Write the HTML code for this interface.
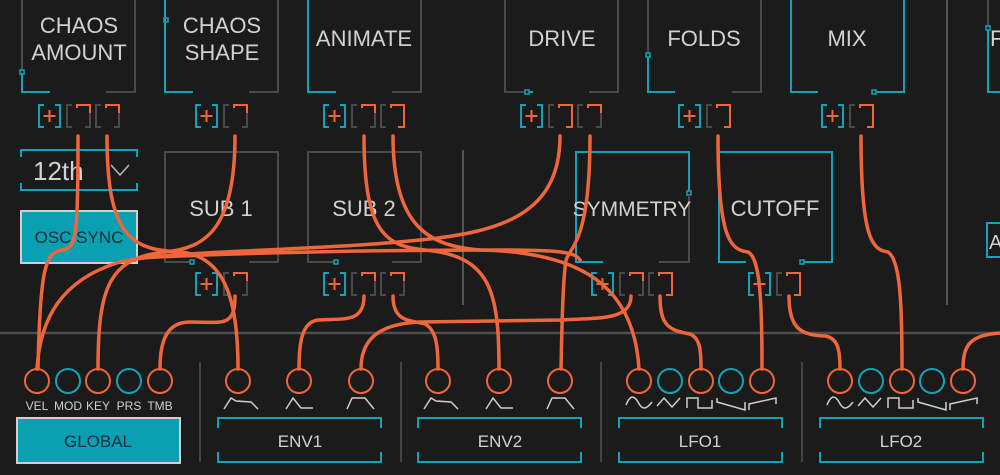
<!DOCTYPE html>
<html><head><meta charset="utf-8"><style>
html,body{margin:0;padding:0;background:#1b1b1b;}
svg{display:block;}
text{font-family:"Liberation Sans",sans-serif;}
</style></head><body>
<svg width="1000" height="475" viewBox="0 0 1000 475" xmlns="http://www.w3.org/2000/svg">
<rect width="1000" height="475" fill="#1b1b1b"/>
<defs>
<g id="plus"><path d="M7,1H2V23H7M18,1H23V23H18" fill="none" stroke="#12a3b8" stroke-width="2"/><path d="M12.5,6V18M6.5,12H18.5" stroke="#f0663c" stroke-width="2"/></g>
<g id="slot"><path d="M6,1H1V23H6M19,1H24V23H19" fill="none" stroke="#4a4a4a" stroke-width="2"/></g>
<g id="slotA"><path d="M6,1H1V23H6M19,1H24V23H19" fill="none" stroke="#4a4a4a" stroke-width="2"/><path d="M11,4V1H24V9" fill="none" stroke="#f0663c" stroke-width="2"/></g>
<g id="slotR"><path d="M6,1H1V23H6" fill="none" stroke="#4a4a4a" stroke-width="2"/><path d="M11,4V1H24V23H18" fill="none" stroke="#f0663c" stroke-width="2"/></g>
</defs>
<g fill="none" stroke-width="2">
<path d="M463,150V305M947,0V305" stroke="#555"/>
<path d="M0,333H1000" stroke="#4e4e4e" stroke-width="2.5"/>
<path d="M200,362V462M401,362V462M601,362V462M802,362V462" stroke="#444"/>
<path d="M22,0V70M106,92H135V0" stroke="#4a4a4a"/>
<path d="M22,74V92H50" stroke="#12a3b8"/><rect x="20" y="70" width="4" height="4" stroke="#12a3b8" stroke-width="1.5"/>
<path d="M165,0V92H193" stroke="#12a3b8"/><rect x="164" y="18" width="4" height="4" stroke="#12a3b8" stroke-width="1.5"/><path d="M249,92H278V0" stroke="#4a4a4a"/>
<path d="M308,0V92H336" stroke="#12a3b8"/><path d="M392,92H421V0" stroke="#4a4a4a"/>
<path d="M505,0V92H525M589,92H618V0" stroke="#4a4a4a"/><rect x="525" y="90" width="4" height="4" stroke="#12a3b8" stroke-width="1.5"/><path d="M529,92H533" stroke="#12a3b8"/>
<path d="M648,0V53" stroke="#4a4a4a"/><path d="M648,57V92H675" stroke="#12a3b8"/><rect x="646" y="53" width="4" height="4" stroke="#12a3b8" stroke-width="1.5"/><path d="M732,92H761V0" stroke="#4a4a4a"/>
<path d="M791,0V92H818M876,92H904V0" stroke="#12a3b8"/><rect x="872" y="90" width="4" height="4" stroke="#12a3b8" stroke-width="1.5"/>
<path d="M988,0V26" stroke="#4a4a4a"/><path d="M988,30V92H1000" stroke="#12a3b8"/><rect x="986" y="26" width="4" height="4" stroke="#12a3b8" stroke-width="1.5"/>
<path d="M190,262H165V152H278V262H249" stroke="#4a4a4a"/><rect x="190" y="260" width="4" height="4" stroke="#12a3b8" stroke-width="1.5"/>
<path d="M334,262H308V152H421V262H392" stroke="#4a4a4a"/><rect x="334" y="260" width="4" height="4" stroke="#12a3b8" stroke-width="1.5"/>
<path d="M603,262H576V152H689V191" stroke="#12a3b8"/><rect x="687" y="191" width="4" height="4" stroke="#12a3b8" stroke-width="1.5"/><path d="M689,195V262H659" stroke="#4a4a4a"/>
<path d="M746,262H719V152H832V262H804" stroke="#12a3b8"/><rect x="800" y="260" width="4" height="4" stroke="#12a3b8" stroke-width="1.5"/>
<rect x="987" y="223" width="16" height="34" stroke="#12a3b8"/>
<path d="M21,157V150H137V157M21,183V190H137V183" stroke="#12a3b8"/>
<path d="M111,165L120,175L129,165" stroke="#bbb" stroke-width="1.5"/>
</g>
<rect x="21" y="211" width="116" height="52" fill="#0aa0b2" stroke="#cfcfcf" stroke-width="2"/>
<use href="#plus" x="37" y="104"/><use href="#slotA" x="66" y="104"/><use href="#slotA" x="95" y="104"/>
<use href="#plus" x="194" y="104"/><use href="#slotA" x="223" y="104"/>
<use href="#plus" x="322" y="104"/><use href="#slotA" x="351" y="104"/><use href="#slotR" x="380" y="104"/>
<use href="#plus" x="194" y="272"/><use href="#slotA" x="223" y="272"/>
<use href="#plus" x="322" y="272"/><use href="#slotA" x="351" y="272"/><use href="#slotA" x="380" y="272"/>
<use href="#plus" x="519" y="104"/><use href="#slotR" x="548" y="104"/><use href="#slotA" x="577" y="104"/>
<use href="#plus" x="677" y="104"/><use href="#slotR" x="706" y="104"/>
<use href="#plus" x="820" y="104"/><use href="#slotR" x="849" y="104"/>
<use href="#plus" x="590" y="272"/><use href="#slotA" x="619" y="272"/><use href="#slotR" x="648" y="272"/>
<use href="#plus" x="747" y="272"/><use href="#slotR" x="776" y="272"/>
<g fill="#d2d2d2" font-size="22" text-anchor="middle">
<text x="79" y="33">CHAOS</text><text x="79" y="60">AMOUNT</text>
<text x="222" y="33">CHAOS</text><text x="222" y="60">SHAPE</text>
<text x="364" y="46">ANIMATE</text><text x="562" y="46">DRIVE</text><text x="704" y="46">FOLDS</text><text x="847" y="46">MIX</text>
<text x="221" y="216">SUB 1</text><text x="364" y="216">SUB 2</text><text x="632" y="216" font-size="21">SYMMETRY</text><text x="775" y="216">CUTOFF</text>
<text x="990" y="46" text-anchor="start">F</text><text x="989" y="249" text-anchor="start" font-size="20">A</text>
</g>
<text x="33" y="180" fill="#d2d2d2" font-size="26">12th</text>
<text x="79" y="243" fill="#12303a" font-size="17" text-anchor="middle">OSC SYNC</text>
<rect x="17" y="418" width="163" height="45" fill="#0aa0b2" stroke="#cfcfcf" stroke-width="2"/>
<text x="98" y="447" fill="#12303a" font-size="17" text-anchor="middle">GLOBAL</text>
<g fill="none" stroke="#12a3b8" stroke-width="2">
<path d="M218,428V418H381V428M218,452V462H381V452"/>
<path d="M418,428V418H581V428M418,452V462H581V452"/>
<path d="M619,428V418H782V428M619,452V462H782V452"/>
<path d="M820,428V418H983V428M820,452V462H983V452"/>
</g>
<g fill="#d2d2d2" font-size="17" text-anchor="middle">
<text x="300" y="447">ENV1</text><text x="500" y="447">ENV2</text><text x="700" y="447">LFO1</text><text x="901" y="447">LFO2</text>
</g>
<g fill="#cfcfcf" font-size="12" text-anchor="middle">
<text x="37" y="410">VEL</text><text x="68" y="410">MOD</text><text x="98" y="410">KEY</text><text x="129" y="410">PRS</text><text x="160" y="410">TMB</text>
</g>
<g fill="none" stroke="#cfcfcf" stroke-width="1.5">
<path d="M224,409L231,398L236,401L251,402L258,409"/>
<path d="M286,409L293,398L301,408L313,408"/>
<path d="M347,409L352,398L365,398L374,409"/>
<path d="M424,409L431,398L436,401L451,402L458,409"/>
<path d="M486,409L493,398L501,408L513,408"/>
<path d="M547,409L552,398L565,398L574,409"/>
<g id="lfo"><path d="M626,405C630,395 634,395 638,402C642,410 646,410 652,402"/><path d="M657,406L664,398L672,407L680,398"/><path d="M687,408V398H698V408H712V400"/><path d="M717,398V402L745,410V402"/><path d="M749,410V404L776,398V404"/></g>
<use href="#lfo" x="201"/>
</g>
<g fill="none" stroke-width="2">
<g stroke="#f0663c">
<circle cx="37" cy="381" r="12"/><circle cx="98" cy="381" r="12"/><circle cx="160" cy="381" r="12"/>
<circle cx="238" cy="381" r="12"/><circle cx="299" cy="381" r="12"/><circle cx="361" cy="381" r="12"/>
<circle cx="438" cy="381" r="12"/><circle cx="499" cy="381" r="12"/><circle cx="560" cy="381" r="12"/>
<circle cx="639" cy="381" r="12"/><circle cx="701" cy="381" r="12"/><circle cx="762" cy="381" r="12"/>
<circle cx="840" cy="381" r="12"/><circle cx="902" cy="381" r="12"/><circle cx="963" cy="381" r="12"/>
</g>
<g stroke="#12a3b8">
<circle cx="68" cy="381" r="12"/><circle cx="129" cy="381" r="12"/>
<circle cx="670" cy="381" r="12"/><circle cx="731" cy="381" r="12"/>
<circle cx="871" cy="381" r="12"/><circle cx="932" cy="381" r="12"/>
</g>
</g>
<g fill="none" stroke="#f0663c" stroke-width="3.5" stroke-linecap="round">
<path d="M78,136C78,240 76,248 62,250C45,252 40,270 38,369"/>
<path d="M560,136C560,215 500,232 420,240C300,252 170,250 120,262C60,280 40,320 37,369"/>
<path d="M235,136C235,230 205,248 165,252C110,258 98,285 98,369"/>
<path d="M235,296C235,328 222,322 190,322C166,322 160,342 160,369"/>
<path d="M107,136C107,235 130,250 180,252C225,256 238,300 238,369"/>
<path d="M364,296C364,324 342,318 318,320C302,322 299,342 299,369"/>
<path d="M631,296C631,320 600,318 560,320L420,322C372,324 361,345 361,369"/>
<path d="M393,296C393,322 410,320 425,324C436,330 438,345 438,369"/>
<path d="M364,136C364,232 385,246 425,250C490,256 499,290 499,369"/>
<path d="M590,136C590,238 572,245 566,260C563,280 562,320 561,369"/>
<path d="M393,136C393,228 430,246 480,250C580,252 634,285 639,369"/>
<path d="M660,296C660,325 668,330 690,334C700,338 701,350 701,369"/>
<path d="M718,136C718,238 730,250 748,252C760,258 762,300 762,369"/>
<path d="M789,296C789,328 800,335 825,336C838,338 840,350 840,369"/>
<path d="M861,136C861,238 872,250 888,252C900,260 902,300 902,369"/>
<path d="M963,369C963,345 970,335 1000,333"/>
<path d="M140,258C250,252 400,250 500,250C560,250 575,252 580,260"/>
</g>
</svg>
</body></html>
